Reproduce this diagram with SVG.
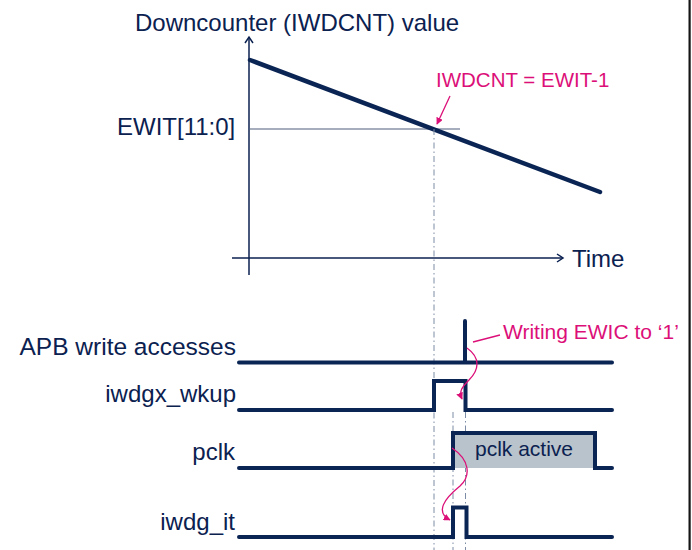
<svg xmlns="http://www.w3.org/2000/svg" width="692" height="550" viewBox="0 0 692 550">
<defs>
<style>
.t{font-family:"Liberation Sans",Arial,sans-serif;font-size:24px;fill:#0b2150}
.m{font-family:"Liberation Sans",Arial,sans-serif;font-size:21px;fill:#dc0f78}
.ax{fill:none;stroke:#0b2150;stroke-width:1.5}
.sig{fill:none;stroke:#0a2454;stroke-width:4;stroke-linecap:round;stroke-linejoin:miter}
.dash{fill:none;stroke:#7d8ca5;stroke-width:1;stroke-dasharray:6 3 1.5 3}
.mg{fill:none;stroke:#dc0f78;stroke-width:1.3}
</style>
<marker id="ah" viewBox="0 0 10 10" refX="9" refY="5" markerWidth="7" markerHeight="7" markerUnits="userSpaceOnUse" orient="auto">
<path d="M0,0 L10,5 L0,10 Z" fill="#dc0f78"/>
</marker>
</defs>
<rect width="692" height="550" fill="#fff"/>
<rect x="688.5" y="0" width="2.2" height="550" fill="#151515"/>

<g id="chart">
<g id="axes">
<path class="ax" d="M249,37 V275"/>
<path class="ax" d="M245,43 L249,37 L253,43"/>
<path class="ax" d="M232,258 H563"/>
<path class="ax" d="M557,254 L563,258 L557,262"/>
<line x1="249" y1="129" x2="460" y2="129" stroke="#4f5f7e" stroke-width="1.2"/>
</g>
<path id="counter" d="M250,60 L600,192" fill="none" stroke="#0a2454" stroke-width="4.5" stroke-linecap="round"/>
<text class="t" x="135" y="31">Downcounter (IWDCNT) value</text>
<text class="t" x="117" y="135">EWIT[11:0]</text>
<text class="t" x="572" y="267">Time</text>
<text class="m" x="436" y="87" style="font-size:20.5px">IWDCNT = EWIT-1</text>
</g>

<g id="guides">
<path class="dash" d="M434,129 V550"/>
<path class="dash" d="M453,412 V550"/>
<path class="dash" d="M465.5,412 V550"/>
</g>

<g id="apb">
<text class="t" x="236" y="355" text-anchor="end" style="font-size:24.5px">APB write accesses</text>
<path class="sig" d="M239,362.5 H612 M465,362.5 V321"/>
</g>
<g id="wkup">
<text class="t" x="236" y="402" text-anchor="end">iwdgx_wkup</text>
<path class="sig" d="M239,410 H434 V381 H465.5 V410 H612"/>
</g>
<g id="pclk">
<text class="t" x="235" y="460" text-anchor="end">pclk</text>
<rect x="453" y="433" width="142" height="35" fill="#b9c3cb"/>
<path class="sig" d="M239,468 H453 V433 H595 V468 H612"/>
<text class="t" x="475" y="456" style="font-size:21px">pclk active</text>
</g>
<g id="iwdg_it">
<text class="t" x="235" y="530" text-anchor="end">iwdg_it</text>
<path class="sig" d="M239,537 H453 V507.5 H466.5 V537 H612"/>
</g>

<g id="connectors">
<path class="mg" d="M450,96 L437,124" marker-end="url(#ah)"/>
<path class="mg" d="M473,342 L500,335"/>
<text class="m" x="503" y="339">Writing EWIC to ‘1’</text>
<path class="mg" d="M467,348 C481,358 479,370 469,380 C461,388 459,392 462,399" marker-end="url(#ah)"/>
<path class="mg" d="M452,448 C470,460 471,476 460,486 C444,499 435,512 450,520" marker-end="url(#ah)"/>
</g>
</svg>
